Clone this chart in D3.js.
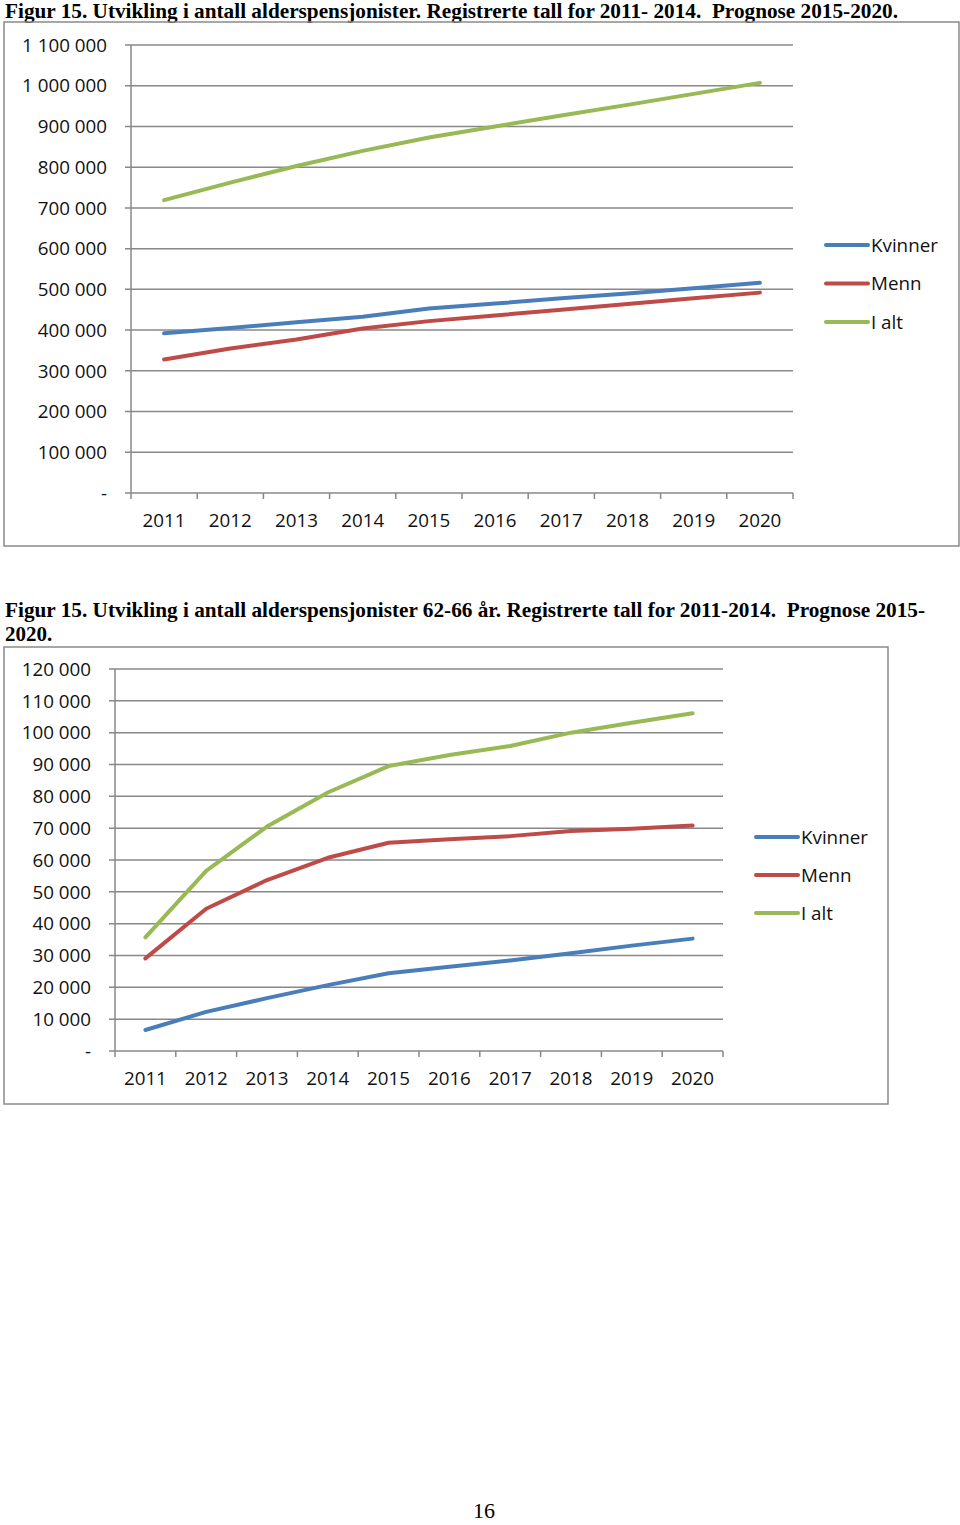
<!DOCTYPE html>
<html><head><meta charset="utf-8">
<script src="https://cdn.jsdelivr.net/npm/d3@7"></script>
<style>
body{margin:0;background:#fff;}
svg{display:block;}
</style></head><body>
<svg id="c" width="960" height="1525"></svg>
<script>
const years = ["2011","2012","2013","2014","2015","2016","2017","2018","2019","2020"];
const seriesNames = ["Kvinner","Menn","I alt"];
const seriesColors = ["#4a7ebb","#be4b48","#98b954"];

// Chart 1: all old-age pensioners
const c1Kvinner = [392000,405000,419000,433000,453000,465000,478000,490000,503000,516000];
const c1Menn    = [328000,355000,377000,404000,422000,436000,450000,464000,478000,492000];
const c1Ialt    = [719000,762000,803000,840000,873000,900000,927000,953000,980000,1007000];
const c1Ticks = [0,100000,200000,300000,400000,500000,600000,700000,800000,900000,1000000,1100000];
const c1Title = "Figur 15. Utvikling i antall alderspensjonister. Registrerte tall for 2011- 2014.  Prognose 2015-2020.";

// Chart 2: pensioners aged 62-66
const c2Kvinner = [6600,12300,16600,20700,24400,26500,28400,30700,33100,35300];
const c2Menn    = [29100,44700,53700,60700,65400,66500,67500,69100,69800,70800];
const c2Ialt    = [35700,56600,70500,81200,89500,93000,95800,100000,103100,106100];
const c2Ticks = [0,10000,20000,30000,40000,50000,60000,70000,80000,90000,100000,110000,120000];
const c2TitleLines = ["Figur 15. Utvikling i antall alderspensjonister 62-66 år. Registrerte tall for 2011-2014.  Prognose 2015-","2020."];

const pageNumber = "16";

const svg = d3.select("#c");
const fmt = v => v === 0 ? "-" : d3.format(",")(v).replace(/,/g, " ");
const tickFont = "'Open Sans', sans-serif";
const gridCol = "#888";

function drawChart(cfg){
  const g = svg.append("g");
  g.append("rect").attr("x", cfg.box[0]).attr("y", cfg.box[1])
    .attr("width", cfg.box[2]-cfg.box[0]).attr("height", cfg.box[3]-cfg.box[1])
    .attr("fill","none").attr("stroke","#8a8a8a").attr("stroke-width",1.5);

  const x = d3.scaleBand().domain(years).range([cfg.x0, cfg.x1]);
  const y = d3.scaleLinear().domain([0, cfg.ticks[cfg.ticks.length-1]]).range([cfg.yb, cfg.yt]);

  g.append("g").selectAll("line").data(cfg.ticks).join("line")
    .attr("x1", cfg.x0 - 6).attr("x2", cfg.x1)
    .attr("y1", d => y(d)).attr("y2", d => y(d))
    .attr("stroke", gridCol).attr("stroke-width", 1.5);
  g.append("line").attr("x1", cfg.x0).attr("x2", cfg.x0).attr("y1", cfg.yt).attr("y2", cfg.yb)
    .attr("stroke", gridCol).attr("stroke-width", 1.5);
  g.append("g").selectAll("text").data(cfg.ticks).join("text")
    .attr("x", cfg.labelX).attr("y", d => y(d)).attr("dy","0.36em")
    .attr("text-anchor","end").attr("font-family", tickFont).attr("font-size", cfg.fs)
    .attr("fill","#111").text(fmt);
  const bounds = years.map(d => x(d)).concat([cfg.x1]);
  g.append("g").selectAll("line").data(bounds).join("line")
    .attr("x1", d => d).attr("x2", d => d).attr("y1", cfg.yb).attr("y2", cfg.yb + 6)
    .attr("stroke", gridCol).attr("stroke-width", 1.5);
  g.append("g").selectAll("text").data(years).join("text")
    .attr("x", d => x(d) + x.bandwidth()/2).attr("y", cfg.xLabelY)
    .attr("text-anchor","middle").attr("font-family", tickFont).attr("font-size", cfg.fs)
    .attr("fill","#111").text(d => d);
  const line = d3.line().x((d,i) => x(years[i]) + x.bandwidth()/2).y(d => y(d));
  cfg.series.forEach((s,i) => {
    g.append("path").attr("d", line(s)).attr("fill","none")
      .attr("stroke", seriesColors[i]).attr("stroke-width", 4)
      .attr("stroke-linecap","round").attr("stroke-linejoin","round");
  });
  seriesNames.forEach((n,i) => {
    const ly = cfg.legY + i*cfg.legStep;
    g.append("line").attr("x1", cfg.legX).attr("x2", cfg.legX + 42).attr("y1", ly).attr("y2", ly)
      .attr("stroke", seriesColors[i]).attr("stroke-width", 4).attr("stroke-linecap","round");
    g.append("text").attr("x", cfg.legX + 45).attr("y", ly).attr("dy","0.36em")
      .attr("font-family", tickFont).attr("font-size", cfg.fs).attr("fill","#111").text(n);
  });
}

const titleFont = "'Liberation Serif','Times New Roman',serif";
function title(t, yy, w){
  const el = svg.append("text").attr("x",5).attr("y",yy).attr("font-family",titleFont).attr("font-weight","bold")
    .attr("font-size",21).attr("fill","#000").style("white-space","pre").text(t);
  if (w) el.attr("textLength", w).attr("lengthAdjust","spacingAndGlyphs");
}
title(c1Title, 18, 893);
title(c2TitleLines[0], 617, 920);
title(c2TitleLines[1], 641, null);

drawChart({box:[4,22,959,546], x0:131, x1:793, yt:45, yb:493, ticks:c1Ticks, labelX:107,
  xLabelY:527, fs:18.8, series:[c1Kvinner,c1Menn,c1Ialt], legX:826, legY:245, legStep:38.5});
drawChart({box:[4,647,888,1104], x0:115, x1:723, yt:669, yb:1051, ticks:c2Ticks, labelX:91,
  xLabelY:1085, fs:18.8, series:[c2Kvinner,c2Menn,c2Ialt], legX:756, legY:837, legStep:38});

svg.append("text").attr("x",484).attr("y",1518).attr("text-anchor","middle")
  .attr("font-family",titleFont).attr("font-size",22).attr("fill","#000").text(pageNumber);
</script>
</body></html>
